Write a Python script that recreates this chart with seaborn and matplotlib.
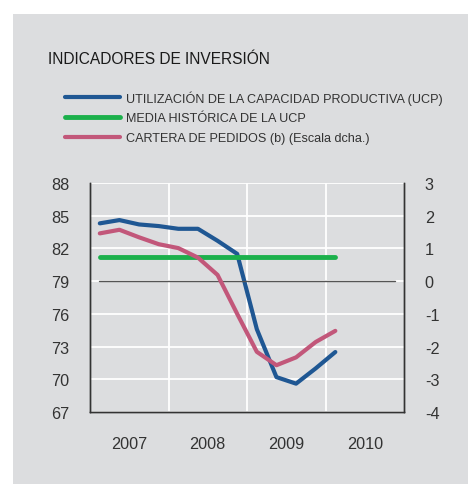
import numpy as np
import pandas as pd
import matplotlib.pyplot as plt
import seaborn as sns
from matplotlib.patches import Rectangle

# Quarterly data
quarters = ["2007Q1", "2007Q2", "2007Q3", "2007Q4",
            "2008Q1", "2008Q2", "2008Q3", "2008Q4",
            "2009Q1", "2009Q2", "2009Q3", "2009Q4",
            "2010Q1"]
ucp = [84.3, 84.6, 84.2, 84.05, 83.8, 83.8, 82.7, 81.5, 74.6, 70.2, 69.6, 71.0, 72.5]
ucp_media = 81.2
cartera = [1.46, 1.57, 1.34, 1.13, 1.01, 0.72, 0.19, -1.0, -2.16, -2.57, -2.33, -1.86, -1.52]

year_labels = ["2007", "2008", "2009", "2010"]
left_ticks = [67, 70, 73, 76, 79, 82, 85, 88]
right_ticks = [-4, -3, -2, -1, 0, 1, 2, 3]

labels = ["UTILIZACIÓN DE LA CAPACIDAD PRODUCTIVA (UCP)",
          "MEDIA HISTÓRICA DE LA UCP",
          "CARTERA DE PEDIDOS (b) (Escala dcha.)"]

BG = "#dcdddf"
BLUE = "#1f5793"
GREEN = "#1bb04b"
PINK = "#c2577a"
TXT = "#333333"

# quarter -> fractional year (middle of the quarter)
per = pd.PeriodIndex(quarters, freq="Q")
df = pd.DataFrame({
    "x": per.year + (per.quarter - 0.5) / 4,
    "ucp": ucp,
    "media": ucp_media,
    "cartera": cartera,
})

sns.set_style("white")
plt.rcParams["font.family"] = ["Liberation Sans", "DejaVu Sans"]
plt.rcParams["axes.unicode_minus"] = False

fig = plt.figure(figsize=(4.68, 4.85), dpi=100)
fig.patch.set_facecolor("white")
fig.patches.append(Rectangle((13 / 468, 0), 1, 1 - 15 / 485, transform=fig.transFigure,
                             facecolor=BG, edgecolor="none", zorder=-10))

ax = fig.add_axes([90 / 468, 1 - 413 / 485, 314 / 468, 229 / 485])
ax.set_facecolor(BG)

sns.lineplot(data=df, x="x", y="ucp", ax=ax, color=BLUE, lw=3, label=labels[0], legend=False)
sns.lineplot(data=df, x="x", y="media", ax=ax, color=GREEN, lw=3.5, label=labels[1], legend=False)

ax.set_xlim(2007, 2011)
ax.set_ylim(67, 88)
ax.set_yticks(left_ticks)
ax.set_xticks([2008, 2009, 2010])
ax.set_xticklabels([])
ax.set_xticks([2007.5, 2008.5, 2009.5, 2010.5], minor=True)
ax.set_xticklabels(year_labels, minor=True)
ax.tick_params(axis="x", which="both", length=0, pad=17, labelsize=11.7, labelcolor=TXT)
ax.tick_params(axis="y", length=0, pad=15, labelsize=11.7, labelcolor=TXT)
ax.grid(True, which="major", color="white", lw=1.3)
ax.set_axisbelow(True)
ax.set_xlabel("")
ax.set_ylabel("")

ax2 = ax.twinx()
sns.lineplot(data=df, x="x", y="cartera", ax=ax2, color=PINK, lw=3, label=labels[2], legend=False)
ax2.axhline(0, xmin=0.03, xmax=0.97, color="#555555", lw=1, zorder=1)
ax2.set_ylim(-4, 3)
ax2.set_yticks(right_ticks)
ax2.tick_params(axis="y", length=0, pad=15, labelsize=11.7, labelcolor=TXT)
ax2.set_ylabel("")
ax2.grid(False)

for a in (ax, ax2):
    a.spines["top"].set_visible(False)
    for s in ("left", "right", "bottom"):
        a.spines[s].set_color("#333333")
        a.spines[s].set_linewidth(1)

fig.text(48 / 468, 1 - 60 / 485, "INDICADORES DE INVERSIÓN", fontsize=11.2,
         color="#1a1a1a", va="center", ha="left")

handles = ax.get_lines()[:2] + ax2.get_lines()[:1]
fig.legend(handles, labels, loc="upper left", bbox_to_anchor=(65 / 468, 1 - 91 / 485),
           frameon=False, fontsize=9.1, handlelength=4.35, handletextpad=0.5,
           labelspacing=0.62, borderaxespad=0, borderpad=0, labelcolor=TXT)

fig.savefig("out.png", dpi=100, facecolor=fig.get_facecolor())
